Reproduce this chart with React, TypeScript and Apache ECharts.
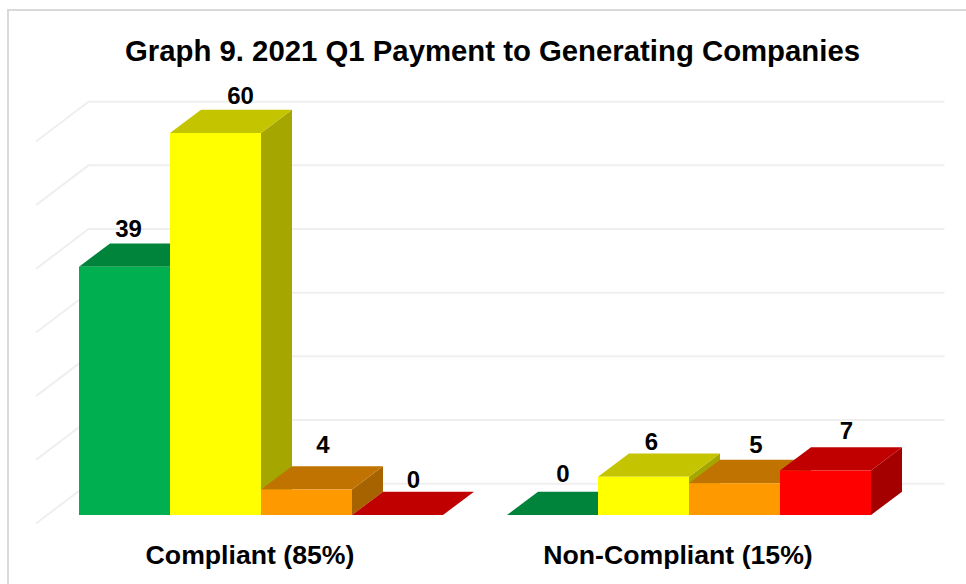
import React, { useEffect, useRef } from "react";
import * as echarts from "echarts";

const categories = ["Compliant (85%)", "Non-Compliant (15%)"];
const greenValues = [39, 0];
const yellowValues = [60, 6];
const orangeValues = [4, 5];
const redValues = [0, 7];
const yTicks = [0, 10, 20, 30, 40, 50, 60];
const titleText = "Graph 9. 2021 Q1 Payment to Generating Companies";

const FONT = '"Liberation Sans", Arial, sans-serif';
const BAR_W = 91;
const DEPTH_X = 31;
const DEPTH_Y = 23.3;
const INSET_X = 11;
const INSET_Y = 8.5;
const WALL_X = 52.5;
const WALL_Y = 39.8;

const seriesStyles = [
  { name: "Green", front: "#00B050", top: "#00843C", side: "#00703A", values: greenValues, nudges: [[4, -38.5], [10.5, -41.5]] },
  { name: "Yellow", front: "#FFFF00", top: "#C4C400", side: "#A6A600", values: yellowValues, nudges: [[25, -37.5], [8, -35.5]] },
  { name: "Orange", front: "#FF9900", top: "#C07300", side: "#A66300", values: orangeValues, nudges: [[16.5, -45.5], [21.5, -38.5]] },
  { name: "Red", front: "#FF0000", top: "#C00000", side: "#A50000", values: redValues, nudges: [[16, -35.5], [21, -39.5]] },
];

function barRenderer(si: number) {
  const st = seriesStyles[si];
  return (params: any, api: any) => {
    const cat = api.value(0);
    const val = api.value(1);
    const [cx, yTop] = api.coord([cat, val]);
    const [, yBase] = api.coord([cat, 0]);
    const x0 = cx + INSET_X + (si - 2) * BAR_W;
    const x1 = x0 + BAR_W;
    const y0 = yTop - INSET_Y;
    const y1 = yBase - INSET_Y;
    const nudge = st.nudges[params.dataIndex];
    const children: any[] = [
      {
        type: "polygon",
        shape: { points: [[x1, y0], [x1 + DEPTH_X, y0 - DEPTH_Y], [x1 + DEPTH_X, y1 - DEPTH_Y], [x1, y1]] },
        style: { fill: st.side },
      },
      {
        type: "polygon",
        shape: { points: [[x0, y0], [x0 + DEPTH_X, y0 - DEPTH_Y], [x1 + DEPTH_X, y0 - DEPTH_Y], [x1, y0]] },
        style: { fill: st.top },
      },
      {
        type: "rect",
        shape: { x: x0, y: y0, width: BAR_W, height: y1 - y0 },
        style: { fill: st.front },
      },
      {
        type: "text",
        z2: 100,
        style: {
          text: String(val),
          x: (x0 + x1) / 2 + nudge[0],
          y: y0 + nudge[1],
          fill: "#000",
          font: `bold 24px ${FONT}`,
          textAlign: "center",
          textVerticalAlign: "middle",
        },
      },
    ];
    return { type: "group", children };
  };
}

function wallRenderer(params: any, api: any) {
  const v = api.value(0);
  const [, y] = api.coord([0, v]);
  const gx = params.coordSys.x;
  const gw = params.coordSys.width;
  return {
    type: "polyline",
    shape: { points: [[gx, y], [gx + WALL_X, y - WALL_Y], [gx + gw + WALL_X, y - WALL_Y]] },
    style: { fill: "none", stroke: "#EFEFEF", lineWidth: 2 },
  };
}

export default function App() {
  const ref = useRef<HTMLDivElement>(null);
  useEffect(() => {
    const chart = echarts.init(ref.current!, undefined, { renderer: "svg" });
    chart.setOption({
      animation: false,
      backgroundColor: "#fff",
      title: {
        text: titleText,
        left: 487.5,
        top: 31,
        textAlign: "center",
        textStyle: { fontFamily: FONT, fontWeight: "bold", fontSize: 29.33, color: "#000" },
      },
      graphic: [
        {
          type: "rect",
          silent: true,
          shape: { x: 8, y: 10, width: 1200, height: 800 },
          style: { fill: "none", stroke: "#D9D9D9", lineWidth: 2 },
        },
      ],
      grid: { left: 36, width: 856, top: 141.5, height: 382 },
      xAxis: {
        type: "category",
        data: categories,
        axisLine: { show: false },
        axisTick: { show: false },
        splitLine: { show: false },
        axisLabel: {
          margin: 17.5,
          color: "#000",
          fontFamily: FONT,
          fontWeight: "bold",
          fontSize: 26.67,
        },
      },
      yAxis: {
        type: "value",
        min: 0,
        max: 60,
        interval: 10,
        axisLine: { show: false },
        axisTick: { show: false },
        axisLabel: { show: false },
        splitLine: { show: false },
      },
      series: [
        {
          type: "custom",
          name: "Walls",
          clip: false,
          silent: true,
          data: yTicks.map((t) => [t]),
          encode: { y: 0 },
          renderItem: wallRenderer,
        },
        ...seriesStyles.map((st, si) => ({
          type: "custom",
          name: st.name,
          clip: false,
          data: st.values.map((v, i) => [i, v]),
          encode: { x: 0, y: 1 },
          renderItem: barRenderer(si),
        })),
      ],
    });
    return () => chart.dispose();
  }, []);
  return <div ref={ref} style={{ position: "fixed", left: 0, top: 0, width: 966, height: 584 }} />;
}
